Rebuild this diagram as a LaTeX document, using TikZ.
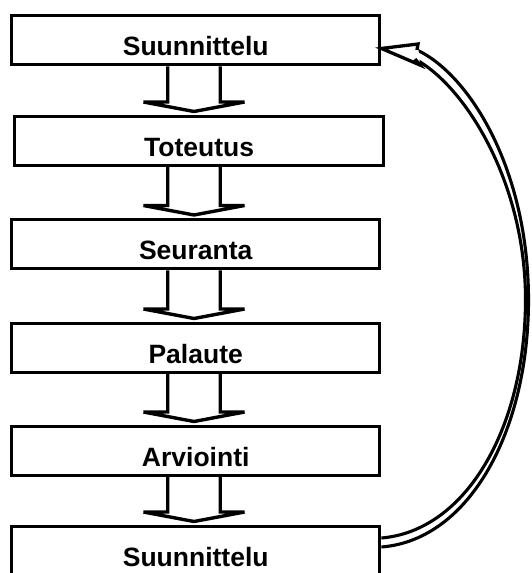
\documentclass[tikz,border=0pt]{standalone}
\usepackage{fontspec}
\setmainfont{Liberation Sans}
\usetikzlibrary{backgrounds}
\begin{document}
\begin{tikzpicture}[x=1pt,y=-1pt,
  stage/.style={draw, line width=3.4pt, fill=white, anchor=north west,
    minimum width=368pt, minimum height=49pt, inner sep=0pt,
    text height=31pt, text depth=0pt,
    font=\fontsize{26.5}{30}\selectfont\bfseries},
  blockarrow/.style={draw, line width=3.4pt, fill=white, line join=miter},
  loopline/.style={line width=3.1pt},
  loophead/.style={line width=3.3pt, line join=miter}]
\useasboundingbox (0,0) rectangle (531,573);

% the six stages of the cycle
\node[stage] (s1) at (10,14)    {Suunnittelu};
\node[stage, minimum width=369pt] (s2) at (13,114.5) {Toteutus};
\node[stage] (s3) at (10,218)   {Seuranta};
\node[stage] (s4) at (10,321.5) {Palaute};
\node[stage] (s5) at (10,424.5) {Arviointi};
\node[stage] (s6) at (10,524.5) {Suunnittelu};

% hollow block arrows between consecutive stages
\coordinate (ax) at (194,0);
\begin{scope}[on background layer]
\foreach \a/\b in {s1/s2,s2/s3,s3/s4,s4/s5,s5/s6}{
  \path (\a.south -| ax) coordinate (t)
        ([yshift=12.5pt]\b.north -| ax) coordinate (h)
        ([yshift=3pt]\b.north -| ax) coordinate (p);
  \draw[blockarrow] ([xshift=-26.25pt]t) -- ([xshift=-26.25pt]h)
     -- ([xshift=-50.5pt]h) -- (p) -- ([xshift=50.5pt]h)
     -- ([xshift=26.25pt]h) -- ([xshift=26.25pt]t);
}
\end{scope}

% feedback loop: double curve from the last stage back to the first
\coordinate (ti) at ([yshift=-13.5pt]s6.north east);
\coordinate (to) at ([yshift=-22.5pt]s6.north east);
\coordinate (tip) at ([yshift=-8.25pt]s1.east);
\coordinate (no) at (417,50);
\coordinate (ni) at (415,59);
\coordinate (bu) at (418,44);
\coordinate (bl) at (420,65);

\draw[loopline] (to) .. controls (470,540) and (528.5,430) .. (528.5,300)
  .. controls (528.5,170) and (470,75) .. (no);
\draw[loopline] (ti) .. controls (465,531) and (525,430) .. (525.5,300)
  .. controls (525.5,182) and (465,86) .. (ni);
\fill[white] (tip) -- (bu) -- (bl) -- cycle;
\draw[loophead] (no) -- (bu) -- (tip) -- (bl) -- (ni);
\end{tikzpicture}
\end{document}
